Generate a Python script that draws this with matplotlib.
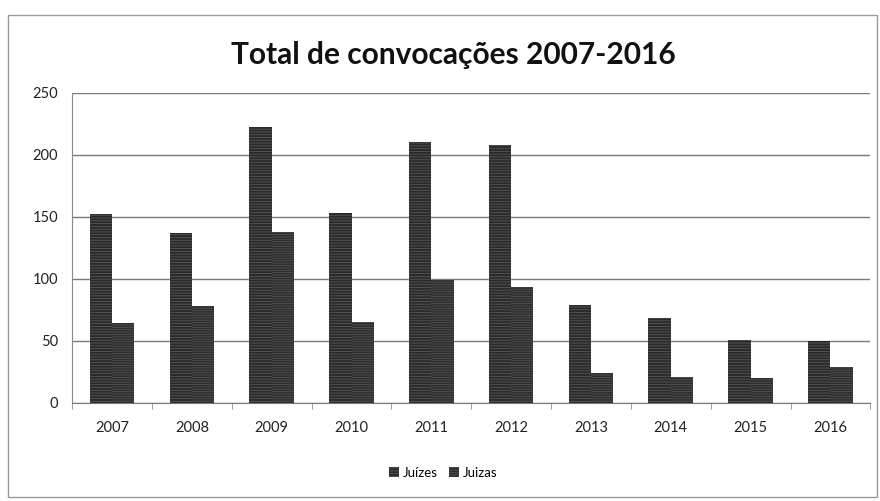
import numpy as np
import matplotlib
matplotlib.use("Agg")
from matplotlib import pyplot as plt
from matplotlib.patches import Rectangle

# values
anos = ['2007', '2008', '2009', '2010', '2011', '2012', '2013', '2014', '2015', '2016']
juizes = [152, 137, 222, 153, 210, 208, 79, 68, 51, 50]
juizas = [64, 78, 138, 65, 99, 93, 24, 21, 20, 29]

plt.rcParams['font.family'] = ['Lato', 'DejaVu Sans']
plt.rcParams['hatch.linewidth'] = 0.6

fig = plt.figure(figsize=(8.8, 5.01), dpi=100)
ax = fig.add_axes([0.082, 0.196, 0.907, 0.619])

# outer chart frame
fig.patches.append(Rectangle((0.009, 0.008), 0.988, 0.962, transform=fig.transFigure,
                             fill=False, edgecolor='#9a9a9a', linewidth=1.0))

x = np.arange(len(anos))
w = 0.28
ax.bar(x - w / 2, juizes, w, color='#2a2a2a', edgecolor='#575757', hatch='------',
       linewidth=0, label='Juízes', zorder=3)
ax.bar(x + w / 2, juizas, w, color='#2e2e2e', edgecolor='#525252', hatch='-------',
       linewidth=0, label='Juizas', zorder=3)

ax.set_ylim(0, 250)
ax.set_yticks(range(0, 251, 50))
ax.set_xlim(-0.5, len(anos) - 0.5)
ax.yaxis.grid(True, color='#7a7a7a', linewidth=1.0, zorder=0)

ax.set_xticks(x)
ax.set_xticklabels(anos)
ax.set_xticks(np.arange(-0.5, len(anos), 1), minor=True)
ax.tick_params(axis='x', which='major', length=0, pad=13, labelsize=10.5, colors='#222222')
ax.tick_params(axis='x', which='minor', length=4, color='#8a8a8a')
ax.tick_params(axis='y', length=0, pad=10, labelsize=10.5, colors='#222222')

for s in ['top', 'right']:
    ax.spines[s].set_visible(False)
ax.spines['left'].set_color('#8a8a8a')
ax.spines['bottom'].set_color('#7a7a7a')

fig.text(0.515, 0.89, 'Total de convocações 2007-2016', ha='center', va='center',
         fontsize=21.5, fontweight='bold', color='#111111')

ax.legend(loc='center', bbox_to_anchor=(0.465, -0.225), ncol=2, frameon=False,
          fontsize=9.5, handlelength=0.7, handleheight=0.7, handletextpad=0.3,
          columnspacing=0.9)

fig.savefig('out.png', dpi=100)
